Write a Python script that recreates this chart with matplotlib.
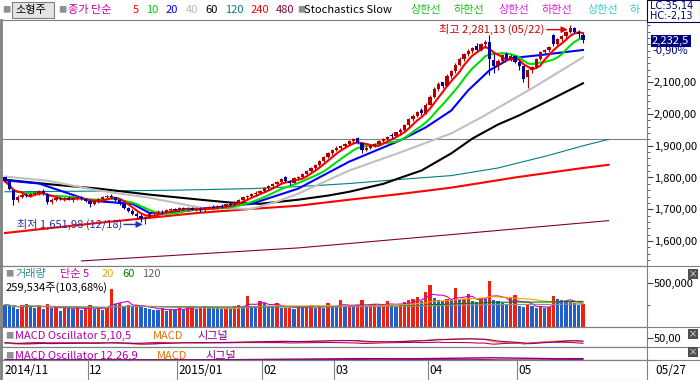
import numpy as np
import pandas as pd
import matplotlib
matplotlib.use('Agg')
import matplotlib.pyplot as plt
from matplotlib.lines import Line2D
from matplotlib.patches import Rectangle
from matplotlib.ticker import MultipleLocator

plt.rcParams['font.family'] = ['Noto Sans CJK KR', 'DejaVu Sans']

# daily candles, 2014/11/03 .. 2015/05/27
opens = [
    1800, 1790, 1760, 1728, 1740, 1745, 1742, 1748, 1752, 1757,
    1748, 1722, 1730, 1735, 1732, 1736, 1730, 1734, 1737, 1733,
    1726, 1715, 1725, 1732, 1740, 1742, 1738, 1728, 1715, 1705,
    1695, 1686, 1678, 1668, 1676, 1684, 1688, 1692, 1690, 1697,
    1700, 1698, 1703, 1700, 1704, 1699, 1702, 1696, 1704, 1707,
    1703, 1710, 1708, 1715, 1712, 1724, 1730, 1737, 1742, 1747,
    1752, 1758, 1766, 1772, 1779, 1787, 1800, 1788, 1784, 1797,
    1803, 1812, 1822, 1830, 1840, 1852, 1865, 1878, 1887, 1894,
    1900, 1907, 1915, 1925, 1910, 1888, 1894, 1898, 1905, 1915,
    1922, 1935, 1930, 1942, 1950, 1966, 1984, 1995, 2012, 2002,
    2030, 2055, 2080, 2100, 2090, 2120, 2135, 2155, 2172, 2188,
    2200, 2215, 2202, 2220, 2226, 2170, 2150, 2168, 2188, 2178,
    2182, 2165, 2150, 2118, 2138, 2148, 2175, 2195, 2202, 2248,
    2222, 2236, 2246, 2258, 2272, 2260, 2250]
highs = [
    1803, 1795, 1762, 1745, 1752, 1750, 1752, 1756, 1760, 1765,
    1750, 1735, 1738, 1740, 1740, 1742, 1738, 1740, 1742, 1736,
    1730, 1728, 1735, 1742, 1746, 1748, 1740, 1732, 1718, 1708,
    1700, 1690, 1684, 1680, 1688, 1692, 1696, 1698, 1700, 1704,
    1705, 1706, 1708, 1707, 1708, 1705, 1706, 1706, 1710, 1712,
    1712, 1716, 1718, 1722, 1726, 1732, 1740, 1745, 1750, 1756,
    1762, 1770, 1775, 1782, 1790, 1798, 1804, 1792, 1800, 1806,
    1814, 1825, 1834, 1842, 1854, 1868, 1880, 1890, 1898, 1904,
    1910, 1918, 1926, 1928, 1912, 1898, 1902, 1908, 1918, 1926,
    1932, 1940, 1945, 1955, 1970, 1988, 2000, 2010, 2020, 2035,
    2060, 2085, 2100, 2102, 2125, 2140, 2160, 2180, 2192, 2205,
    2212, 2225, 2225, 2232, 2250, 2190, 2175, 2190, 2196, 2190,
    2186, 2170, 2152, 2142, 2152, 2178, 2200, 2206, 2214, 2252,
    2240, 2250, 2262, 2281.13, 2276, 2264, 2254]
lows = [
    1785, 1760, 1712, 1722, 1735, 1738, 1738, 1744, 1745, 1745,
    1715, 1718, 1725, 1728, 1726, 1728, 1724, 1728, 1730, 1722,
    1708, 1712, 1720, 1728, 1734, 1735, 1725, 1712, 1700, 1692,
    1682, 1672, 1660, 1651.98, 1672, 1680, 1684, 1686, 1688, 1692,
    1694, 1694, 1698, 1695, 1696, 1694, 1692, 1692, 1700, 1700,
    1700, 1704, 1705, 1710, 1710, 1720, 1726, 1732, 1738, 1742,
    1748, 1754, 1760, 1768, 1775, 1783, 1785, 1775, 1782, 1792,
    1800, 1808, 1818, 1826, 1836, 1848, 1860, 1872, 1882, 1890,
    1896, 1903, 1910, 1905, 1878, 1884, 1890, 1895, 1902, 1912,
    1918, 1925, 1927, 1938, 1946, 1962, 1978, 1990, 1998, 2000,
    2028, 2050, 2072, 2082, 2088, 2115, 2130, 2150, 2168, 2182,
    2192, 2198, 2200, 2212, 2122, 2130, 2140, 2160, 2170, 2168,
    2160, 2140, 2100, 2081, 2130, 2144, 2170, 2188, 2196, 2215,
    2218, 2230, 2240, 2255, 2255, 2240, 2225]
closes = [
    1788, 1765, 1728, 1740, 1745, 1742, 1748, 1752, 1757, 1750,
    1722, 1730, 1735, 1732, 1736, 1730, 1734, 1737, 1733, 1726,
    1715, 1725, 1732, 1740, 1742, 1738, 1728, 1715, 1705, 1695,
    1686, 1678, 1670, 1676, 1684, 1688, 1692, 1690, 1697, 1700,
    1698, 1703, 1700, 1704, 1699, 1702, 1696, 1704, 1707, 1703,
    1710, 1708, 1715, 1712, 1724, 1730, 1737, 1742, 1747, 1752,
    1758, 1766, 1772, 1779, 1787, 1795, 1788, 1784, 1797, 1803,
    1812, 1822, 1830, 1840, 1852, 1865, 1878, 1887, 1894, 1900,
    1907, 1915, 1921, 1910, 1888, 1894, 1898, 1905, 1915, 1922,
    1928, 1930, 1942, 1950, 1966, 1984, 1995, 2005, 2002, 2030,
    2055, 2080, 2095, 2088, 2120, 2135, 2155, 2172, 2188, 2200,
    2208, 2202, 2220, 2226, 2172, 2150, 2168, 2185, 2175, 2182,
    2165, 2150, 2112, 2138, 2148, 2175, 2195, 2202, 2210, 2220,
    2236, 2246, 2258, 2272, 2260, 2252.8, 2232.5]
volumes = [
    250000, 240000, 230000, 200000, 245000, 255000, 235000, 220000, 240000, 200000,
    260000, 210000, 230000, 185000, 235000, 210000, 200000, 230000, 190000, 205000,
    245000, 200000, 215000, 190000, 210000, 430000, 260000, 270000, 240000, 250000,
    225000, 250000, 240000, 215000, 200000, 195000, 190000, 220000, 180000, 200000,
    190000, 215000, 205000, 230000, 240000, 200000, 220000, 235000, 225000, 215000,
    210000, 200000, 230000, 205000, 240000, 250000, 210000, 350000, 240000, 230000,
    295000, 270000, 240000, 230000, 270000, 210000, 215000, 220000, 205000, 240000,
    215000, 230000, 250000, 220000, 225000, 220000, 275000, 230000, 225000, 300000,
    235000, 240000, 230000, 245000, 300000, 240000, 250000, 255000, 240000, 260000,
    295000, 250000, 240000, 255000, 280000, 300000, 320000, 340000, 290000, 400000,
    480000, 330000, 300000, 290000, 320000, 300000, 445000, 300000, 320000, 375000,
    290000, 280000, 330000, 320000, 520000, 300000, 290000, 270000, 260000, 330000,
    360000, 240000, 230000, 250000, 240000, 210000, 225000, 215000, 230000, 350000,
    320000, 300000, 290000, 280000, 275000, 250000, 259534]

# moving averages (index, value)
ma20_idx = [0, 8, 20, 30, 34, 40, 46, 58, 69, 81, 93, 99, 105, 109, 114, 119, 126, 136]
ma20_val = [1791, 1781, 1727, 1717, 1688, 1690, 1701, 1717, 1765, 1850, 1917, 1958,
            2011, 2075, 2138, 2176, 2186, 2202]
ma40_idx = [0, 10, 22, 34, 46, 58, 64, 69, 81, 93, 105, 112, 124, 136]
ma40_val = [1803, 1790, 1759, 1736, 1705, 1701, 1724, 1749, 1822, 1879, 1939, 1989, 2081, 2179]
ma60_idx = [0, 11, 22, 34, 46, 53, 60, 69, 76, 81, 89, 93, 98, 105, 110, 116, 121, 128, 136]
ma60_val = [1793, 1778, 1765, 1746, 1730, 1721, 1717, 1730, 1743, 1755, 1780, 1799, 1822,
            1876, 1923, 1967, 1996, 2043, 2097]
ma120_idx = [0, 20, 40, 58, 70, 81, 93, 105, 116, 128, 136, 142]
ma120_val = [1755, 1757, 1760, 1765, 1772, 1781, 1794, 1806, 1830, 1870, 1900, 1920]
ma240_idx = [0, 22, 46, 58, 69, 81, 93, 105, 120, 136, 142]
ma240_val = [1625, 1657, 1689, 1701, 1711, 1730, 1748, 1768, 1800, 1830, 1840]
ma480_idx = [18, 69, 105, 142]
ma480_val = [1537, 1578, 1620, 1664]

base_level = 1922
month_starts = [0, 20, 41, 61, 78, 100, 121]
month_labels = ['2014/11', '12', '2015/01', '02', '03', '04', '05']
last_date = '05/27'
hi_date, lo_date = '05/22', '12/18'
price_ticks = [1600, 1700, 1800, 1900, 2000, 2100]

W, H = 700, 380


def box(x0, y0, x1, y1):
    return [x0 / W, 1 - y1 / H, (x1 - x0) / W, (y1 - y0) / H]


def fmt(v, d=2):
    return f'{v:,.{d}f}'.replace('.', ',')


def put(x, y, s, color='black', size=8, **kw):
    return fig.text(x / W, 1 - y / H, s, color=color, fontsize=size,
                    va='center', ha='left', **kw)


o, h, l, c = map(np.array, (opens, highs, lows, closes))
v = np.array(volumes, dtype=float)
idx = np.arange(len(c))
x_lo, x_hi = -0.94, 151.06

fig = plt.figure(figsize=(7, 3.8), dpi=100)
ax = fig.add_axes(box(1, 20, 647, 266))
axv = fig.add_axes(box(1, 266, 647, 327))
axm1 = fig.add_axes(box(1, 327, 647, 347))
axm2 = fig.add_axes(box(1, 347, 647, 360))
axd = fig.add_axes(box(1, 360, 647, 380))

for a in (ax, axv, axm1, axm2, axd):
    a.set_xlim(x_lo, x_hi)
    a.set_xticks([])
    a.yaxis.tick_right()
    a.tick_params(axis='y', which='major', direction='out', length=4, width=0.8,
                  color='#404040', labelsize=8, pad=1)
    a.tick_params(axis='y', which='minor', direction='out', length=2, width=0.6,
                  color='#404040')
    for s in a.spines.values():
        s.set_color('#808080')
        s.set_linewidth(0.8)
    a.spines['left'].set_linewidth(2)

# price panel
ax.set_ylim(1521, 2296.5)
ax.set_yticks(price_ticks)
ax.set_yticklabels([fmt(t) for t in price_ticks])
ax.yaxis.set_minor_locator(MultipleLocator(20))
ax.axhline(base_level, color='#808080', lw=0.8, zorder=1)

ma5 = pd.Series(c).rolling(5, min_periods=1).mean()
ma10 = pd.Series(c).rolling(10, min_periods=1).mean()
ax.plot(ma480_idx, ma480_val, color='#800040', lw=0.8, zorder=2)
ax.plot(ma240_idx, ma240_val, color='#ff0000', lw=1.5, zorder=2)
ax.plot(ma120_idx, ma120_val, color='#008080', lw=0.8, zorder=2)
ax.plot(ma60_idx, ma60_val, color='black', lw=1.5, zorder=2)
ax.plot(ma40_idx, ma40_val, color='#c0c0c0', lw=1.5, zorder=2)
ax.plot(ma20_idx, ma20_val, color='#0000ff', lw=1.5, zorder=2)
ax.plot(idx, ma10, color='#00e000', lw=1.5, zorder=2)
ax.plot(idx, ma5, color='#ff0000', lw=1.5, zorder=2)

up = c >= o
ccol = np.where(up, '#b00000', '#0000a0')
ax.vlines(idx, l, h, colors=ccol, lw=0.8, zorder=4)
ax.bar(idx, np.maximum(np.abs(c - o), 2.5), bottom=np.minimum(o, c),
       width=0.75, color=ccol, linewidth=0, zorder=5)

i_hi, i_lo = int(np.argmax(h)), int(np.argmin(l))
ax.text(i_hi - 6, h[i_hi] - 15, f'최고 {fmt(h[i_hi])} ({hi_date})', color='#d00000',
        fontsize=8, ha='right', va='center', zorder=6)
ax.annotate('', xy=(i_hi - 0.6, h[i_hi] - 15), xytext=(i_hi - 5.5, h[i_hi] - 15),
            arrowprops=dict(arrowstyle='-|>', color='#e00000', lw=1, mutation_scale=9,
                            shrinkA=0, shrinkB=0), zorder=6)
ax.text(i_lo - 5.5, l[i_lo], f'최저 {fmt(l[i_lo])} ({lo_date})', color='#2030a0',
        fontsize=8, ha='right', va='center', zorder=6)
ax.annotate('', xy=(i_lo - 0.6, l[i_lo]), xytext=(i_lo - 5, l[i_lo]),
            arrowprops=dict(arrowstyle='-|>', color='#2030c0', lw=1, mutation_scale=9,
                            shrinkA=0, shrinkB=0), zorder=6)

# volume panel
vcol = ['#1f5fd0'] + ['#f02010' if v[i] >= v[i - 1] else '#1f5fd0' for i in range(1, len(v))]
axv.bar(idx, v, width=0.75, color=vcol, linewidth=0, zorder=2)
for per, col in ((5, '#d000d0'), (20, '#e0a800'), (60, '#008000'), (120, '#909090')):
    axv.plot(idx, pd.Series(v).rolling(per, min_periods=1).mean(), color=col, lw=0.8, zorder=3)
axv.set_ylim(0, 690000)
axv.set_yticks([500000])
axv.set_yticklabels(['500,000'])
axv.yaxis.set_minor_locator(MultipleLocator(250000))

# MACD panels
cs = pd.Series(c)
macd1 = cs.ewm(span=5, adjust=False).mean() - cs.ewm(span=10, adjust=False).mean()
sig1 = macd1.ewm(span=5, adjust=False).mean()
axm1.plot(idx, macd1 - sig1, color='#c00060', lw=0.8)
axm1.plot(idx, macd1, color='#ff8000', lw=0.8)
axm1.plot(idx, sig1, color='#800080', lw=0.8)
axm1.set_ylim(-40, 150)
axm1.set_yticks([50])
axm1.set_yticklabels([fmt(50)])

macd2 = cs.ewm(span=12, adjust=False).mean() - cs.ewm(span=26, adjust=False).mean()
sig2 = macd2.ewm(span=9, adjust=False).mean()
axm2.plot(idx, macd2 - sig2, color='#c00060', lw=0.8)
axm2.plot(idx, sig2, color='#800080', lw=1.0)
axm2.set_ylim(-15, 500)
axm2.set_yticks([0])
axm2.set_yticklabels([''])

# date row
axd.set_ylim(0, 1)
axd.set_yticks([])
for m, lab in zip(month_starts, month_labels):
    if m > 0:
        axd.axvline(m - 0.5, color='#808080', lw=0.8)
    axd.text(max(m - 0.5, x_lo) + 0.3, 0.45, lab, fontsize=8.5, va='center', ha='left')
put(655, 370, last_date, size=8.5)

# separators across the full width
for y in (266, 327, 347, 360):
    fig.add_artist(Line2D([0, 1], [1 - y / H] * 2, color='#808080', lw=0.8))

# top legend row
put(2, 10, '■', '#909090', 6)
fig.add_artist(Rectangle((12 / W, 1 - 18 / H), 42 / W, 16 / H, transform=fig.transFigure,
                         fc='#e4e4e4', ec='#808080', lw=0.8))
put(15, 10, '소형주', 'black', 8)
put(58, 10, '■', '#909090', 6)
put(68, 10, '종가 단순', '#cc00aa', 8)
for x, lab, col in ((133, '5', '#ff0000'), (146, '10', '#00cc00'), (166, '20', '#0000ff'),
                    (186, '40', '#b8b8b8'), (205, '60', 'black'), (225, '120', '#008080'),
                    (251, '240', '#ff0000'), (276, '480', '#800040')):
    put(x, 10, lab, col, 8)
put(297, 10, '■', '#909090', 6)
put(304, 10, 'Stochastics Slow', 'black', 8)
for x, lab, col in ((410, '상한선', '#20c020'), (453, '하한선', '#20c020'),
                    (498, '상한선', '#e020e0'), (542, '하한선', '#e020e0'),
                    (587, '상한선', '#30d0d0'), (630, '하', '#30d0d0')):
    put(x, 10, lab, col, 8)
fig.add_artist(Rectangle((647 / W, 1 - 22 / H), 53 / W, 22 / H, transform=fig.transFigure,
                         fc='white', ec='#000060', lw=0.8, zorder=4))
put(650, 5.5, 'LC:35,14', '#000080', 7, family=['DejaVu Sans'], zorder=5)
put(650, 16.5, 'HC:-2,13', '#000080', 7, family=['DejaVu Sans'], zorder=5)

# last price badge
put(652, 41, fmt(c[-1], 1), 'white', 8,
    bbox=dict(boxstyle='square,pad=0.12', fc='#000080', ec='none'), zorder=5)
put(652, 51, '-0,90%', '#000080', 8, zorder=5)

# volume and MACD legends
put(5, 274, '■', '#909090', 6)
put(15, 274, '거래량', '#2a8a8a', 8)
put(60, 274, '단순 5', '#cc00aa', 8)
put(102, 274, '20', '#d8b000', 8)
put(122, 274, '60', '#008000', 8)
put(142, 274, '120', '#606060', 8)
put(6, 288, f'{int(v[-1]):,}주(103,68%)', 'black', 8)
for y, name, xm, xs in ((336, 'MACD Oscillator 5,10,5', 153, 197),
                        (356, 'MACD Oscillator 12,26,9', 157, 205)):
    put(5, y, '■', '#909090', 6)
    put(15, y, name, '#b000b0', 8)
    put(xm, y, 'MACD', '#e07000', 8)
    put(xs, y, '시그널', '#800080', 8)

for y in (274, 334, 352):
    put(689, y, '×', 'white', 6, bbox=dict(boxstyle='square,pad=0.1', fc='#505050', ec='none'))

fig.savefig('out.png', dpi=100, facecolor='white')
